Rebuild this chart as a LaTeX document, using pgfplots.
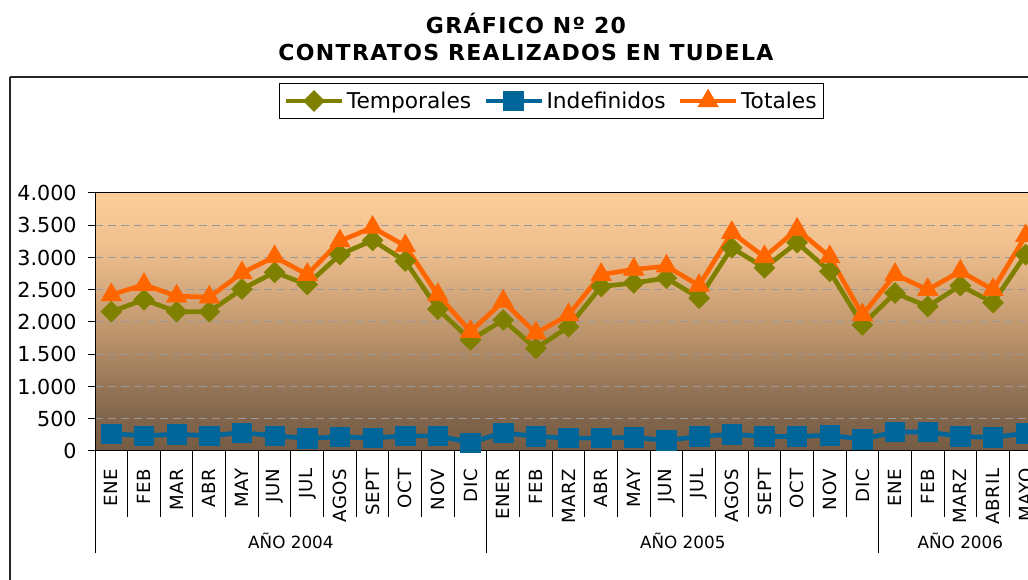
\documentclass[border=0pt]{standalone}
\usepackage{pgfplots}
\pgfplotsset{compat=1.18}
\usepackage{fontspec}
\setmainfont{DejaVu Sans}
\newfontfamily\titlefont[LetterSpace=6]{DejaVu Sans Bold}
\newfontfamily\monthfont[LetterSpace=4]{DejaVu Sans}
\definecolor{olv}{RGB}{128,128,0}
\definecolor{blu}{RGB}{0,102,153}
\definecolor{org}{RGB}{255,102,0}
\definecolor{bgA}{RGB}{118,92,68}
\definecolor{bgB}{RGB}{130,102,76}
\definecolor{bgC}{RGB}{196,154,112}
\definecolor{bgD}{RGB}{240,192,143}
\definecolor{bgE}{RGB}{252,204,153}
\pgfdeclareverticalshading{bgshade}{100bp}{color(0bp)=(bgA); color(25bp)=(bgA); color(32bp)=(bgB); color(50bp)=(bgC); color(65bp)=(bgD); color(75bp)=(bgE); color(100bp)=(bgE)}

\pgfplotstableread{
x tem ind tot
0 2160 270 2420
1 2345 235 2580
2 2160 260 2400
3 2160 235 2385
4 2510 285 2760
5 2770 235 3010
6 2580 195 2735
7 3045 220 3255
8 3265 200 3465
9 2945 235 3180
10 2200 235 2420
11 1720 130 1850
12 2030 285 2320
13 1590 225 1825
14 1925 200 2110
15 2550 200 2735
16 2605 210 2815
17 2680 165 2865
18 2370 225 2565
19 3150 260 3385
20 2840 225 3010
21 3230 225 3435
22 2785 245 3010
23 1955 180 2110
24 2450 295 2735
25 2240 295 2500
26 2565 225 2785
27 2300 210 2500
28 3045 275 3335
}\datatable

\begin{document}
\begin{tikzpicture}
\useasboundingbox (0pt,0pt) rectangle (771pt,435pt);
\fill[white] (0pt,0pt) rectangle (771pt,435pt);
\begin{scope}[x=0.75pt,y=0.75pt]
\draw[line width=1.1pt, black!85] (10,503) -- (1045,503);
\draw[line width=1.1pt, black!85] (10,503) -- (10,-10);
\node[font=\fontsize{16.5}{19}\titlefont] at (526,557) {GRÁFICO Nº 20};
\node[font=\fontsize{16.5}{19}\titlefont] at (526,527) {CONTRATOS REALIZADOS EN TUDELA};
\end{scope}
\begin{axis}[
  at={(71.25pt,96.75pt)}, anchor=south west,
  scale only axis, width=710.25pt, height=193.5pt,
  xmin=-0.5, xmax=28.5, ymin=0, ymax=4000,
  clip=false,
  axis background/.style={shading=bgshade},
  axis line style={black, line width=0.75pt},
  tick pos=left, tick align=outside,
  ytick={0,500,...,4000},
  major tick length=5.25pt,
  tick style={black, line width=0.75pt},
  major x tick style={draw=none},
  xtick={0,...,28},
  xticklabels={ENE,FEB,MAR,ABR,MAY,JUN,JUL,AGOS,SEPT,OCT,NOV,DIC,ENER,FEB,MARZ,ABR,MAY,JUN,JUL,AGOS,SEPT,OCT,NOV,DIC,ENE,FEB,MARZ,ABRIL,MAYO},
  minor xtick={-0.5,0.5,...,28.5},
  minor tick length=49.5pt,
  xticklabel style={rotate=90, anchor=east, font=\fontsize{13.6}{15}\monthfont, xshift=-4.5pt},
  yticklabel style={font=\fontsize{15.5}{18}\selectfont, xshift=-5pt},
  /pgf/number format/.cd, 1000 sep={.}, assume math mode=true, /pgfplots/.cd,
  ymajorgrids,
  major grid style={draw=black!40, line width=0.75pt, dash pattern=on 6pt off 3.75pt},
  legend columns=3,
  legend style={at={(0.482,1.3566)}, anchor=center, draw=black, line width=0.75pt, fill=white,
    font=\fontsize{16.3}{19}\selectfont, inner xsep=3pt, inner ysep=4pt,
    /tikz/every even column/.append style={column sep=7pt}},
  legend image code/.code={\draw[mark repeat=2,mark phase=2] plot coordinates {(0pt,0pt) (21pt,0pt) (42pt,0pt)};},
]
\addplot[olv, line width=3.5pt, mark=square*, mark size=5.5pt, mark options={rotate=45, line width=0.5pt, fill=olv, draw=olv}] table[x=x,y=tem] {\datatable};
\addlegendentry{Temporales}
\addplot[blu, line width=3.5pt, mark=square*, mark size=7.3pt, mark options={line width=0.5pt, fill=blu, draw=blu}] table[x=x,y=ind] {\datatable};
\addlegendentry{Indefinidos}
\addplot[org, line width=3.5pt, mark=triangle*, mark size=8.8pt, mark options={line width=0.5pt, fill=org, draw=org}] table[x=x,y=tot] {\datatable};
\addlegendentry{Totales}
\draw[black, line width=0.75pt] (axis cs:-0.5,0) -- ++(0pt,-76.5pt);
\draw[black, line width=0.75pt] (axis cs:11.5,0) -- ++(0pt,-76.5pt);
\draw[black, line width=0.75pt] (axis cs:23.5,0) -- ++(0pt,-76.5pt);
\draw[black, line width=0.75pt] (axis cs:28.5,0) -- ++(0pt,-76.5pt);
\node[font=\fontsize{12.6}{14}\selectfont] at (axis cs:5.5,0) [yshift=-67.5pt] {AÑO 2004};
\node[font=\fontsize{12.6}{14}\selectfont] at (axis cs:17.5,0) [yshift=-67.5pt] {AÑO 2005};
\node[font=\fontsize{12.6}{14}\selectfont] at (axis cs:26,0) [yshift=-67.5pt] {AÑO 2006};
\end{axis}
\end{tikzpicture}
\end{document}
